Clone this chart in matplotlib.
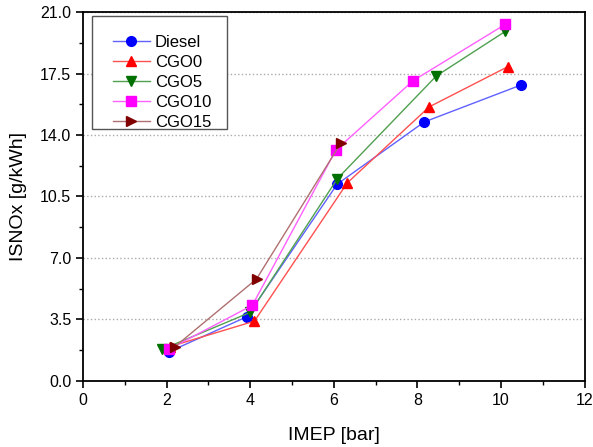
import numpy as np
import matplotlib.pyplot as plt
from matplotlib.patches import Rectangle
from matplotlib.ticker import MultipleLocator, FormatStrFormatter

plt.rcParams['font.family'] = ['Liberation Sans', 'DejaVu Sans']

# Valeurs
diesel_x = [2.05, 3.92, 6.08, 8.16, 10.48]
diesel_y = [1.65, 3.65, 11.2, 14.74, 16.85]
cgo0_x = [2.08, 4.10, 6.32, 8.28, 10.17]
cgo0_y = [1.95, 3.40, 11.27, 15.6, 17.9]
cgo5_x = [1.90, 4.00, 6.08, 8.45, 10.10]
cgo5_y = [1.80, 3.90, 11.5, 17.36, 19.9]
cgo10_x = [2.05, 4.05, 6.05, 7.90, 10.10]
cgo10_y = [1.80, 4.30, 13.15, 17.1, 20.3]
cgo15_x = [2.20, 4.15, 6.17]
cgo15_y = [1.95, 5.80, 13.55]

series = [
    ('Diesel', diesel_x, diesel_y, 'o', '#0000ff', '#6060ff'),
    ('CGO0', cgo0_x, cgo0_y, '^', '#ff0000', '#ff5050'),
    ('CGO5', cgo5_x, cgo5_y, 'v', '#007000', '#50a050'),
    ('CGO10', cgo10_x, cgo10_y, 's', '#ff00ff', '#ff60ff'),
    ('CGO15', cgo15_x, cgo15_y, '>', '#800000', '#b07070'),
]

fig = plt.figure(figsize=(5.93, 4.47), dpi=100)
ax = fig.add_axes([0.14, 0.148, 0.846, 0.825])

for name, xs, ys, mk, mc, lc in series:
    ax.plot(xs, ys, color=lc, lw=1, marker=mk, ms=7,
            markerfacecolor=mc, markeredgecolor=mc, label=name)

ax.set_xlim(0, 12)
ax.set_ylim(0, 21)
ax.xaxis.set_major_locator(MultipleLocator(2))
ax.xaxis.set_minor_locator(MultipleLocator(1))
ax.yaxis.set_major_locator(MultipleLocator(3.5))
ax.yaxis.set_minor_locator(MultipleLocator(1.75))
ax.yaxis.set_major_formatter(FormatStrFormatter('%.1f'))
ax.tick_params(which='major', length=5, width=1.2, labelsize=11.5)
ax.tick_params(which='minor', length=3, width=1)
ax.yaxis.grid(True, linestyle=':', color='#aaaaaa', lw=1)
for s in ax.spines.values():
    s.set_linewidth(1.3)

ax.set_xlabel('IMEP [bar]', fontsize=14, labelpad=14)
ax.set_ylabel('ISNOx [g/kWh]', fontsize=14, labelpad=9)

# cadre de la légende (plus d'espace en haut qu'en bas, comme l'original)
ax.add_patch(Rectangle((0.018, 0.683), 0.269, 0.306, transform=ax.transAxes,
                       facecolor='white', edgecolor='#555555', lw=1, zorder=4))
leg = ax.legend(loc='upper left', bbox_to_anchor=(0.0598, 0.938), borderaxespad=0,
                fontsize=12, frameon=False, borderpad=0,
                handlelength=2.2, handletextpad=0.3, labelspacing=0.3)
leg.set_zorder(5)

fig.savefig('out.png', dpi=100)
